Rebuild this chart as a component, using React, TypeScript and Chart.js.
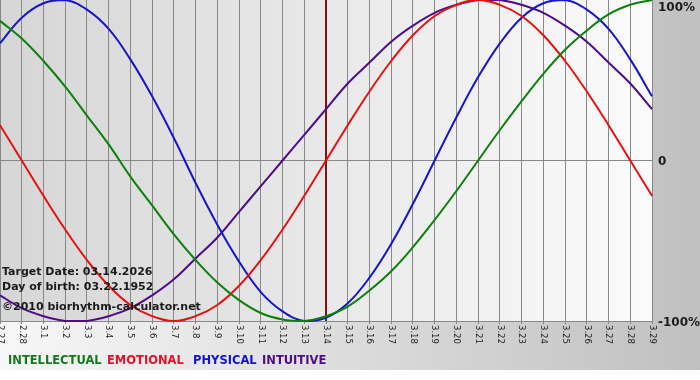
import React, { useEffect, useRef } from 'react';
import { Chart, registerables } from 'chart.js';

Chart.register(...registerables);

const dates = ['2.27', '2.28', '3.1', '3.2', '3.3', '3.4', '3.5', '3.6', '3.7', '3.8', '3.9', '3.10', '3.11', '3.12', '3.13', '3.14', '3.15', '3.16', '3.17', '3.18', '3.19', '3.20', '3.21', '3.22', '3.23', '3.24', '3.25', '3.26', '3.27', '3.28', '3.29'];
const intellectual = [87, 76, 62, 46, 28, 10, -10, -28, -46, -62, -76, -87, -95, -99, -100, -97, -91, -81, -69, -54, -37, -19, 0, 19, 37, 54, 69, 81, 91, 97, 100];
const emotional = [22, 0, -22, -43, -62, -78, -90, -97, -100, -97, -90, -78, -62, -43, -22, 0, 22, 43, 62, 78, 90, 97, 100, 97, 90, 78, 62, 43, 22, 0, -22];
const physical = [73, 89, 98, 100, 94, 82, 63, 40, 14, -14, -40, -63, -82, -94, -100, -98, -89, -73, -52, -27, 0, 27, 52, 73, 89, 98, 100, 94, 82, 63, 40];
const intuitive = [-84, -92, -97, -100, -100, -97, -92, -84, -74, -61, -48, -32, -16, 0, 16, 32, 48, 61, 74, 84, 92, 97, 100, 100, 97, 92, 84, 74, 61, 48, 32];
const yTicks = [100, 0, -100];
const targetDate = '3.14';
const infoLines = ['Target Date: 03.14.2026', 'Day of birth: 03.22.1952', '\u00a92010 biorhythm-calculator.net'];
const legendNames = ['INTELLECTUAL', 'EMOTIONAL', 'PHYSICAL', 'INTUITIVE'];

const lineColors = ['#0c7f0c', '#e31212', '#1616c8', '#4e0c86'];
const legendColors = ['#137a1c', '#e8102a', '#1212d4', '#4e0c86'];
const legendX = [8, 107, 193, 262];
const FONT = '"DejaVu Sans", Verdana, sans-serif';

const decorPlugin = {
  id: 'decor',
  beforeDraw(chart: any) {
    const { ctx, width, height, chartArea: a } = chart;
    ctx.save();
    ctx.fillStyle = '#ffffff';
    ctx.fillRect(0, 0, width, height);
    let g = ctx.createLinearGradient(0, 0, width, 0);
    g.addColorStop(0, '#f7f7f7');
    g.addColorStop(1, '#c0c0c0');
    ctx.fillStyle = g;
    ctx.fillRect(0, 0, width, 370);
    g = ctx.createLinearGradient(a.left, 0, a.right, 0);
    g.addColorStop(0, '#d6d6d6');
    g.addColorStop(1, '#fbfbfb');
    ctx.fillStyle = g;
    ctx.fillRect(a.left, a.top, a.right - a.left, a.bottom - a.top);
    ctx.restore();
  },
  beforeDatasetsDraw(chart: any) {
    const { ctx, chartArea: a } = chart;
    const xs = chart.scales.x;
    const x = xs.getPixelForValue(dates.indexOf(targetDate));
    ctx.save();
    ctx.strokeStyle = '#7d1414';
    ctx.lineWidth = 2;
    ctx.beginPath();
    ctx.moveTo(x, a.top);
    ctx.lineTo(x, a.bottom);
    ctx.stroke();
    ctx.restore();
  },
  afterDraw(chart: any) {
    const { ctx, chartArea: a } = chart;
    const xs = chart.scales.x;
    const ys = chart.scales.y;
    ctx.save();
    ctx.fillStyle = '#1c1c1c';
    ctx.font = '8.5px ' + FONT;
    ctx.textAlign = 'left';
    ctx.textBaseline = 'middle';
    dates.forEach((d, i) => {
      const x = xs.getPixelForValue(i);
      ctx.save();
      ctx.translate(x, a.bottom + 4);
      ctx.rotate(Math.PI / 2);
      ctx.fillText(d, 0, 0);
      ctx.restore();
    });
    ctx.font = 'bold 12px ' + FONT;
    ctx.fillStyle = '#1a1a1a';
    yTicks.forEach((v) => {
      let y = ys.getPixelForValue(v) + 1.5;
      if (y < 8) y = 8;
      const label = v === 0 ? '0' : v + '%';
      ctx.fillText(label, a.right + 6, y);
    });
    ctx.font = 'bold 11px ' + FONT;
    ctx.fillStyle = '#1a1a1a';
    const infoY = [272, 287, 307];
    infoLines.forEach((t, i) => ctx.fillText(t, 2, infoY[i]));
    ctx.font = 'bold 11.5px ' + FONT;
    legendNames.forEach((n, i) => {
      ctx.fillStyle = legendColors[i];
      ctx.fillText(n, legendX[i], 361);
    });
    ctx.restore();
  },
};

export default function App() {
  const ref = useRef<HTMLCanvasElement>(null);
  useEffect(() => {
    if (!ref.current) return;
    const mk = (label: string, data: number[], i: number) => ({
      label,
      data,
      borderColor: lineColors[i],
      backgroundColor: lineColors[i],
      borderWidth: 2,
      pointRadius: 0,
      tension: 0.4,
      fill: false,
      clip: false as any,
    });
    const chart = new Chart(ref.current, {
      type: 'line',
      data: {
        labels: dates,
        datasets: [
          mk('INTELLECTUAL', intellectual, 0),
          mk('EMOTIONAL', emotional, 1),
          mk('PHYSICAL', physical, 2),
          mk('INTUITIVE', intuitive, 3),
        ],
      },
      options: {
        responsive: false,
        animation: false,
        layout: { padding: 0, autoPadding: false },
        plugins: { legend: { display: false }, tooltip: { enabled: false } },
        scales: {
          x: {
            type: 'category',
            offset: false,
            ticks: { display: false },
            grid: { color: '#888888', lineWidth: 1, tickLength: 3, offset: false },
            border: { display: true, color: '#888888' },
            afterFit: (s: any) => { s.height = 59; },
          },
          y: {
            position: 'right',
            min: -100,
            max: 100,
            ticks: { display: false, stepSize: 100 },
            grid: {
              color: (c: any) => (c.tick && c.tick.value === 0 ? '#888888' : 'rgba(0,0,0,0)'),
              drawTicks: false,
            },
            border: { display: false },
            afterFit: (s: any) => { s.width = 48; },
          },
        },
      },
      plugins: [decorPlugin],
    } as any);
    return () => chart.destroy();
  }, []);
  return (
    <div style={{ position: 'absolute', left: 0, top: 0, width: 700, height: 380 }}>
      <canvas ref={ref} width={700} height={380} style={{ width: 700, height: 380, display: 'block' }} />
    </div>
  );
}
